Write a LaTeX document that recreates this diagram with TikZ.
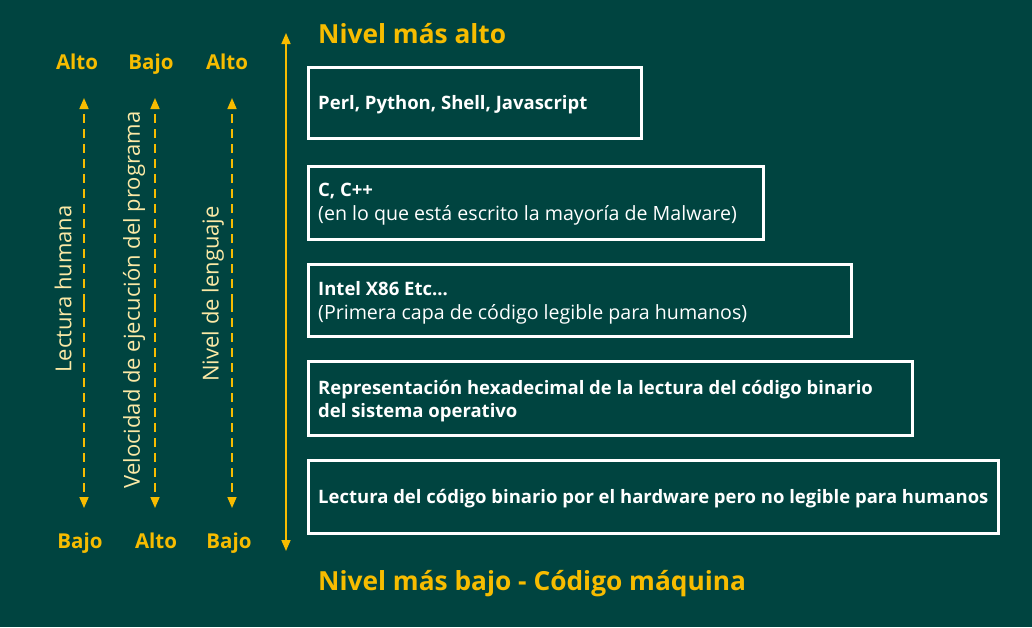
\documentclass[tikz,border=0pt]{standalone}
\usepackage{fontspec}
\setmainfont{Open Sans}
\newfontfamily\sidefont{Open Sans}
\usetikzlibrary{arrows.meta}
\definecolor{bg}{HTML}{004440}
\definecolor{gold}{HTML}{F7BC00}
\definecolor{cream}{HTML}{FCE9A6}
\newcommand{\bx}{\fontsize{18.5}{23.5}\selectfont\bfseries}
\newcommand{\rg}{\fontsize{19.6}{23.5}\selectfont\mdseries}
\begin{document}
\begin{tikzpicture}[x=1pt,y=-1pt,
  lvlbox/.style={draw=white,line width=3pt,inner sep=0pt},
  boxtext/.style={text=white,anchor=west,align=left,font=\fontsize{18.5}{23.5}\selectfont,inner sep=0pt},
  endlabel/.style={text=gold,font=\fontsize{20.5}{24}\selectfont\bfseries,inner sep=0pt,anchor=base},
  sidelabel/.style={text=cream,font=\sidefont\fontsize{22}{24}\selectfont,rotate=90,inner sep=0pt},
  dasharrow/.style={draw=gold,line width=1.6pt,dash pattern=on 9pt off 6pt,-{Triangle[width=9pt,length=11pt]}},
  bigarrow/.style={draw=gold,line width=1.6pt,{Triangle[width=9pt,length=11pt]}-{Triangle[width=9pt,length=11pt]}},
  title/.style={text=gold,anchor=west,inner sep=0pt,font=\fontsize{26.3}{30}\selectfont\bfseries}]
\fill[bg] (0,0) rectangle (1032,627);
\useasboundingbox (0,0) rectangle (1032,627);

% boxes
\draw[lvlbox] (308,67) rectangle (641,138);
\draw[lvlbox] (308,166) rectangle (763,239);
\draw[lvlbox] (308,264) rectangle (851,336);
\draw[lvlbox] (308,361) rectangle (912,435);
\draw[lvlbox] (308,460) rectangle (998,533);

\node[boxtext] (t1) at (318,105) {\bx Perl, Python, Shell, Javascript};
\node[boxtext] (t2) at (318,204) {\bx C, C++\\\rg (en lo que está escrito la mayoría de Malware)};
\node[boxtext] (t3) at (318,303) {\bx Intel X86 Etc...\\\rg (Primera capa de código legible para humanos)};
\node[boxtext] (t4) at (318,401) {\bx Representación hexadecimal de la lectura del código binario\\\bx del sistema operativo};
\node[boxtext] (t5) at (318,499) {\bx Lectura del código binario por el hardware pero no legible para humanos};

% titles
\node[title] (top) at (318,34) {Nivel más alto};
\node[title] (bot) at (318,584) {Nivel más bajo - Código máquina};

% big arrow
\coordinate (ba) at (286,33);
\coordinate (bb) at (286,551);
\draw[bigarrow] (bb) -- (ba);

% dashed arrows
\foreach \n/\x in {a/84,b/155,c/232}{
  \coordinate (\n1) at (\x,303);
  \coordinate (\n2) at (\x,98);
  \coordinate (\n3) at (\x,508);
  \draw[dasharrow] (\n1) -- (\n2);
  \draw[dasharrow] (\n1) -- (\n3);
}

% end labels
\node[endlabel] (l1) at (77,69) {Alto};
\node[endlabel] (l2) at (151,69) {Bajo};
\node[endlabel] (l3) at (227,69) {Alto};
\node[endlabel] (l4) at (80,548) {Bajo};
\node[endlabel] (l5) at (156,548) {Alto};
\node[endlabel] (l6) at (229,548) {Bajo};

% side labels
\node[sidelabel] (s1) at (63,289) {Lectura humana};
\node[sidelabel] (s2) at (134,300) {Velocidad de ejecución del programa};
\node[sidelabel] (s3) at (213,294) {Nivel de lenguaje};
\end{tikzpicture}
\end{document}
